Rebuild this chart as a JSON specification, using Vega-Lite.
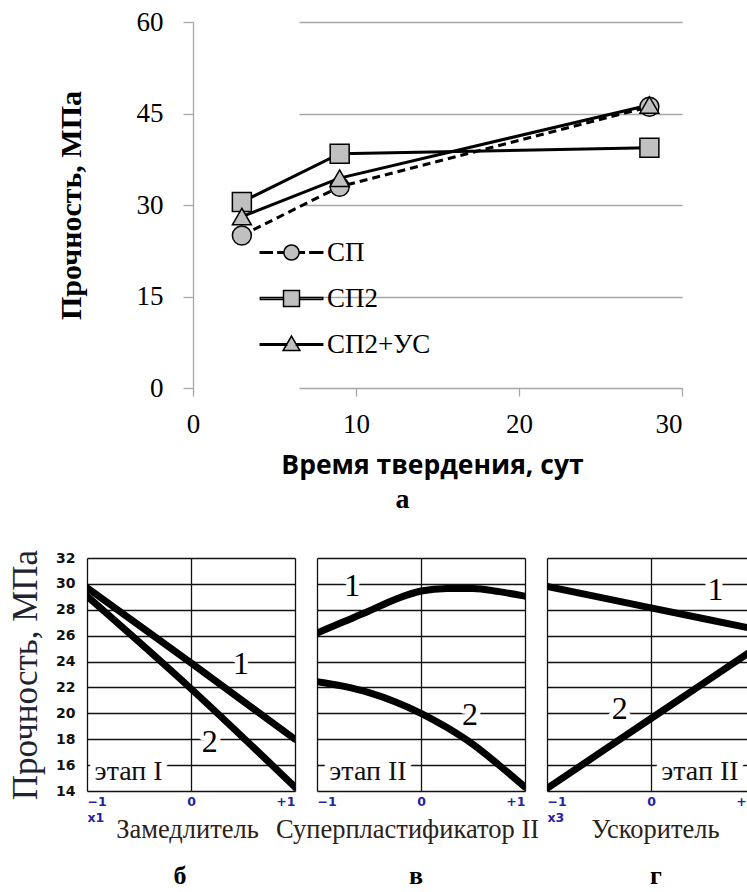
{
  "$schema": "https://vega.github.io/schema/vega-lite/v6.json",
  "background": "white",
  "padding": {"left": 8, "top": 8, "right": 0, "bottom": 0},
  "spacing": 35,
  "resolve": {"scale": {"shape": "independent"}, "legend": {"shape": "independent"}},
  "datasets": {
    "top": [
      {"series": "СП", "day": 3, "strength": 25.0},
      {"series": "СП", "day": 9, "strength": 33.0},
      {"series": "СП", "day": 28, "strength": 46.1},
      {"series": "СП2", "day": 3, "strength": 30.5},
      {"series": "СП2", "day": 9, "strength": 38.4},
      {"series": "СП2", "day": 28, "strength": 39.4},
      {"series": "СП2+УС", "day": 3, "strength": 28.1},
      {"series": "СП2+УС", "day": 9, "strength": 34.4},
      {"series": "СП2+УС", "day": 28, "strength": 46.4}
    ],
    "curves": [
      {"panel": "б", "series": "1", "x": -1, "y": 29.7},
      {"panel": "б", "series": "1", "x": 0, "y": 23.9},
      {"panel": "б", "series": "1", "x": 1, "y": 18.0},
      {"panel": "б", "series": "2", "x": -1, "y": 29.05},
      {"panel": "б", "series": "2", "x": 0, "y": 21.9},
      {"panel": "б", "series": "2", "x": 1, "y": 14.3},
      {"panel": "в", "series": "1", "x": -1, "y": 26.2},
      {"panel": "в", "series": "1", "x": -0.75, "y": 27.05},
      {"panel": "в", "series": "1", "x": -0.5, "y": 27.9},
      {"panel": "в", "series": "1", "x": -0.25, "y": 28.8},
      {"panel": "в", "series": "1", "x": 0, "y": 29.45},
      {"panel": "в", "series": "1", "x": 0.25, "y": 29.65},
      {"panel": "в", "series": "1", "x": 0.5, "y": 29.65},
      {"panel": "в", "series": "1", "x": 0.75, "y": 29.4},
      {"panel": "в", "series": "1", "x": 1, "y": 29.05},
      {"panel": "в", "series": "2", "x": -1, "y": 22.45},
      {"panel": "в", "series": "2", "x": -0.75, "y": 22.1},
      {"panel": "в", "series": "2", "x": -0.5, "y": 21.6},
      {"panel": "в", "series": "2", "x": -0.25, "y": 20.9},
      {"panel": "в", "series": "2", "x": 0, "y": 20.0},
      {"panel": "в", "series": "2", "x": 0.25, "y": 18.9},
      {"panel": "в", "series": "2", "x": 0.5, "y": 17.6},
      {"panel": "в", "series": "2", "x": 0.75, "y": 16.0},
      {"panel": "в", "series": "2", "x": 1, "y": 14.3},
      {"panel": "г", "series": "1", "x": -1, "y": 29.8},
      {"panel": "г", "series": "1", "x": 0, "y": 28.15},
      {"panel": "г", "series": "1", "x": 1, "y": 26.5},
      {"panel": "г", "series": "2", "x": -1, "y": 14.2},
      {"panel": "г", "series": "2", "x": 0, "y": 19.6},
      {"panel": "г", "series": "2", "x": 1, "y": 25.0}
    ],
    "notes": [
      {"panel": "б", "kind": "num", "x": 0.48, "y": 23.8, "text": "1"},
      {"panel": "б", "kind": "num", "x": 0.18, "y": 17.8, "text": "2"},
      {"panel": "б", "kind": "stage", "x": -0.6, "y": 15.5, "text": "этап I"},
      {"panel": "в", "kind": "num", "x": -0.66, "y": 29.8, "text": "1"},
      {"panel": "в", "kind": "num", "x": 0.47, "y": 19.9, "text": "2"},
      {"panel": "в", "kind": "stage", "x": -0.51, "y": 15.5, "text": "этап II"},
      {"panel": "г", "kind": "num", "x": 0.62, "y": 29.5, "text": "1"},
      {"panel": "г", "kind": "num", "x": -0.3, "y": 20.3, "text": "2"},
      {"panel": "г", "kind": "stage", "x": 0.47, "y": 15.5, "text": "этап II"}
    ]
  },
  "vconcat": [
    {
      "width": 595,
      "height": 366,
      "data": {"name": "top"},
      "title": {"text": "а", "orient": "bottom", "font": "Liberation Serif", "fontSize": 28, "fontWeight": "bold", "color": "black", "offset": 7, "dx": 18},
      "resolve": {"scale": {"shape": "independent"}, "legend": {"shape": "independent"}},
      "encoding": {
        "x": {
          "field": "day", "type": "quantitative",
          "scale": {"domain": [-6.5, 30], "nice": false, "zero": false},
          "axis": {
            "values": [0, 10, 20, 30], "grid": false,
            "domain": false,
            "ticks": true, "tickSize": 8, "tickColor": "#a6a6a6", "tickWidth": 1.3,
            "labelFont": "Liberation Serif", "labelFontSize": 27, "labelColor": "black", "labelPadding": 15,
            "title": "Время твердения, сут", "titleFont": "Open Sans", "titleFontSize": 26.5, "titleFontWeight": "bold", "titleColor": "black", "titlePadding": 15,
            "titleX": 345, "titleAlign": "center"
          }
        },
        "y": {
          "field": "strength", "type": "quantitative",
          "scale": {"domain": [0, 60], "nice": false},
          "axis": {
            "values": [0, 15, 30, 45, 60], "offset": -106,
            "grid": true, "gridColor": "#a6a6a6", "gridWidth": 1.3,
            "domain": true, "domainColor": "#a6a6a6", "domainWidth": 1.3,
            "ticks": true, "tickSize": 10, "tickColor": "#a6a6a6", "tickWidth": 1.3,
            "labelFont": "Liberation Serif", "labelFontSize": 27, "labelColor": "black", "labelPadding": 20,
            "title": "Прочность, МПа", "titleFont": "Liberation Serif", "titleFontSize": 30, "titleFontWeight": "bold", "titleColor": "black", "titlePadding": 50,
            "encoding": {"grid": {"x": {"value": 106}}}
          }
        }
      },
      "layer": [
        {
          "transform": [{"filter": "datum.series === 'СП'"}],
          "mark": {"type": "line", "color": "black", "strokeWidth": 3, "strokeDash": [8, 5]},
          "encoding": {"detail": {"field": "series", "type": "nominal"}}
        },
        {
          "transform": [{"filter": "datum.series !== 'СП'"}],
          "mark": {"type": "line", "color": "black", "strokeWidth": 3},
          "encoding": {"detail": {"field": "series", "type": "nominal"}}
        },
        {
          "mark": {"type": "point", "filled": true, "fill": "#c0c0c0", "stroke": "black", "strokeWidth": 1.5, "opacity": 1, "size": 360},
          "encoding": {
            "shape": {
              "field": "series", "type": "nominal",
              "scale": {"domain": ["СП", "СП2", "СП2+УС"], "range": ["circle", "square", "triangle-up"]},
              "legend": null
            }
          }
        },
        {
          "mark": {"type": "point", "filled": true, "fill": "#c0c0c0", "stroke": "black", "strokeWidth": 1.5, "opacity": 0, "size": 256},
          "encoding": {
            "shape": {
              "field": "series", "type": "nominal",
              "scale": {
                "domain": ["СП", "СП2", "СП2+УС"],
                "range": [
                  "M-3.9,-0.09H-2.4V0.09H-3.9Z M-1.7,-0.09H-1.05V0.09H-1.7Z M1.05,-0.09H1.6V0.09H1.05Z M2.3,-0.09H3.9V0.09H2.3Z M-0.95,0A0.95,0.95 0 1,0 0.95,0A0.95,0.95 0 1,0 -0.95,0Z",
                  "M-3.9,-0.11H-1V0.11H-3.9Z M1,-0.11H3.9V0.11H1Z M-1,-1H1V1H-1Z",
                  "M-3.9,-0.1H-0.6V0.1H-3.9Z M0.6,-0.1H3.9V0.1H0.6Z M0,-1.05L1.05,0.75L-1.05,0.75Z"
                ]
              },
              "legend": {
                "orient": "none", "legendX": 191, "legendY": 217, "title": null,
                "labelFont": "Liberation Serif", "labelFontSize": 27, "labelColor": "black",
                "labelOffset": 22, "rowPadding": 18, "symbolSize": 256,
                "symbolFillColor": "#c0c0c0", "symbolStrokeColor": "black", "symbolStrokeWidth": 1.5, "symbolOpacity": 1,
                "encoding": {
                  "symbols": {
                    "fill": {"value": "#c0c0c0"},
                    "stroke": {"value": "black"},
                    "strokeWidth": {"value": 1.5}
                  }
                }
              }
            }
          }
        }
      ]
    },
    {
      "hconcat": [
        {
          "width": 208,
          "height": 233,
          "title": {"text": "б", "orient": "bottom", "font": "Liberation Serif", "fontSize": 26, "fontWeight": "bold", "color": "black", "offset": 20, "dx": -11},
          "encoding": {
            "x": {
              "field": "x", "type": "quantitative",
              "scale": {"domain": [-1, 1], "nice": false, "zero": false},
              "axis": {
                "values": [-1, 0, 1], "grid": true, "gridColor": "#111", "gridWidth": 1.3,
                "domain": false, "ticks": false,
                "labelExpr": "datum.value == -1 ? ['−1', 'x1'] : datum.value == 1 ? '+1' : '0'",
                "labelFlush": true, "labelFont": "DejaVu Sans", "labelFontWeight": "bold", "labelFontSize": 12.5, "labelColor": "#2323a0", "labelPadding": 4, "labelLineHeight": 16,
                "title": "Замедлитель", "titleFont": "Liberation Serif", "titleFontSize": 26.5, "titleFontWeight": "normal", "titleColor": "#2b2118",
                "titleX": 100, "titleY": 46, "titleBaseline": "alphabetic", "titleAlign": "center"
              }
            },
            "y": {
              "field": "y", "type": "quantitative",
              "scale": {"domain": [14, 32], "nice": false, "zero": false},
              "axis": {
                "values": [14, 16, 18, 20, 22, 24, 26, 28, 30, 32],
                "grid": true, "gridColor": "#111", "gridWidth": 1.3, "domain": false, "ticks": false,
                "labelFont": "DejaVu Sans", "labelFontWeight": "bold", "labelFontSize": 14, "labelColor": "#111", "labelPadding": 12,
                "title": "Прочность, МПа", "titleFont": "Liberation Serif", "titleFontSize": 35, "titleFontWeight": "normal", "titleColor": "#1f2530", "titlePadding": 12
              }
            }
          },
          "layer": [
            {
              "data": {"name": "curves"},
              "transform": [{"filter": "datum.panel === 'б'"}],
              "mark": {"type": "line", "color": "black", "strokeWidth": 7, "strokeCap": "round", "interpolate": "monotone", "clip": true},
              "encoding": {"detail": {"field": "series", "type": "nominal"}}
            },
            {
              "data": {"name": "notes"},
              "transform": [{"filter": "datum.panel === 'б' && datum.kind === 'num'"}],
              "mark": {"type": "text", "font": "Liberation Serif", "fontSize": 32, "color": "white", "stroke": "white", "strokeWidth": 10, "strokeJoin": "round", "baseline": "middle"},
              "encoding": {"text": {"field": "text"}}
            },
            {
              "data": {"name": "notes"},
              "transform": [{"filter": "datum.panel === 'б' && datum.kind === 'num'"}],
              "mark": {"type": "text", "font": "Liberation Serif", "fontSize": 32, "color": "black", "baseline": "middle"},
              "encoding": {"text": {"field": "text"}}
            },
            {
              "data": {"name": "notes"},
              "transform": [{"filter": "datum.panel === 'б' && datum.kind === 'stage'"}],
              "mark": {"type": "text", "font": "Liberation Serif", "fontSize": 28, "color": "white", "stroke": "white", "strokeWidth": 12, "strokeJoin": "round", "baseline": "middle"},
              "encoding": {"text": {"field": "text"}}
            },
            {
              "data": {"name": "notes"},
              "transform": [{"filter": "datum.panel === 'б' && datum.kind === 'stage'"}],
              "mark": {"type": "text", "font": "Liberation Serif", "fontSize": 28, "color": "#111", "baseline": "middle"},
              "encoding": {"text": {"field": "text"}}
            }
          ]
        },
        {
          "width": 208,
          "height": 233,
          "title": {"text": "в", "orient": "bottom", "font": "Liberation Serif", "fontSize": 26, "fontWeight": "bold", "color": "black", "offset": 20, "dx": -5},
          "encoding": {
            "x": {
              "field": "x", "type": "quantitative",
              "scale": {"domain": [-1, 1], "nice": false, "zero": false},
              "axis": {
                "values": [-1, 0, 1], "grid": true, "gridColor": "#111", "gridWidth": 1.3,
                "domain": false, "ticks": false,
                "labelExpr": "datum.value == -1 ? '−1' : datum.value == 1 ? '+1' : '0'",
                "labelFlush": true, "labelFont": "DejaVu Sans", "labelFontWeight": "bold", "labelFontSize": 12.5, "labelColor": "#2323a0", "labelPadding": 4,
                "title": "Суперпластификатор II", "titleFont": "Liberation Serif", "titleFontSize": 26.5, "titleFontWeight": "normal", "titleColor": "#2b2118",
                "titleX": 90, "titleY": 46, "titleBaseline": "alphabetic", "titleAlign": "center"
              }
            },
            "y": {
              "field": "y", "type": "quantitative",
              "scale": {"domain": [14, 32], "nice": false, "zero": false},
              "axis": {
                "values": [14, 16, 18, 20, 22, 24, 26, 28, 30, 32],
                "grid": true, "gridColor": "#111", "gridWidth": 1.3, "domain": false, "ticks": false,
                "labels": false, "title": null
              }
            }
          },
          "layer": [
            {
              "data": {"name": "curves"},
              "transform": [{"filter": "datum.panel === 'в'"}],
              "mark": {"type": "line", "color": "black", "strokeWidth": 7, "strokeCap": "round", "interpolate": "monotone", "clip": true},
              "encoding": {"detail": {"field": "series", "type": "nominal"}}
            },
            {
              "data": {"name": "notes"},
              "transform": [{"filter": "datum.panel === 'в' && datum.kind === 'num'"}],
              "mark": {"type": "text", "font": "Liberation Serif", "fontSize": 32, "color": "white", "stroke": "white", "strokeWidth": 10, "strokeJoin": "round", "baseline": "middle"},
              "encoding": {"text": {"field": "text"}}
            },
            {
              "data": {"name": "notes"},
              "transform": [{"filter": "datum.panel === 'в' && datum.kind === 'num'"}],
              "mark": {"type": "text", "font": "Liberation Serif", "fontSize": 32, "color": "black", "baseline": "middle"},
              "encoding": {"text": {"field": "text"}}
            },
            {
              "data": {"name": "notes"},
              "transform": [{"filter": "datum.panel === 'в' && datum.kind === 'stage'"}],
              "mark": {"type": "text", "font": "Liberation Serif", "fontSize": 28, "color": "white", "stroke": "white", "strokeWidth": 12, "strokeJoin": "round", "baseline": "middle"},
              "encoding": {"text": {"field": "text"}}
            },
            {
              "data": {"name": "notes"},
              "transform": [{"filter": "datum.panel === 'в' && datum.kind === 'stage'"}],
              "mark": {"type": "text", "font": "Liberation Serif", "fontSize": 28, "color": "#111", "baseline": "middle"},
              "encoding": {"text": {"field": "text"}}
            }
          ]
        },
        {
          "width": 208,
          "height": 233,
          "title": {"text": "г", "orient": "bottom", "font": "Liberation Serif", "fontSize": 26, "fontWeight": "bold", "color": "black", "offset": 20, "dx": 5},
          "encoding": {
            "x": {
              "field": "x", "type": "quantitative",
              "scale": {"domain": [-1, 1], "nice": false, "zero": false},
              "axis": {
                "values": [-1, 0, 1], "grid": true, "gridColor": "#111", "gridWidth": 1.3,
                "domain": false, "ticks": false,
                "labelExpr": "datum.value == -1 ? ['−1', 'x3'] : datum.value == 1 ? '+1' : '0'",
                "labelFlush": true, "labelFont": "DejaVu Sans", "labelFontWeight": "bold", "labelFontSize": 12.5, "labelColor": "#2323a0", "labelPadding": 4, "labelLineHeight": 16,
                "title": "Ускоритель", "titleFont": "Liberation Serif", "titleFontSize": 26.5, "titleFontWeight": "normal", "titleColor": "#2b2118",
                "titleX": 108, "titleY": 46, "titleBaseline": "alphabetic", "titleAlign": "center"
              }
            },
            "y": {
              "field": "y", "type": "quantitative",
              "scale": {"domain": [14, 32], "nice": false, "zero": false},
              "axis": {
                "values": [14, 16, 18, 20, 22, 24, 26, 28, 30, 32],
                "grid": true, "gridColor": "#111", "gridWidth": 1.3, "domain": false, "ticks": false,
                "labels": false, "title": null
              }
            }
          },
          "layer": [
            {
              "data": {"name": "curves"},
              "transform": [{"filter": "datum.panel === 'г'"}],
              "mark": {"type": "line", "color": "black", "strokeWidth": 7, "strokeCap": "round", "interpolate": "monotone", "clip": true},
              "encoding": {"detail": {"field": "series", "type": "nominal"}}
            },
            {
              "data": {"name": "notes"},
              "transform": [{"filter": "datum.panel === 'г' && datum.kind === 'num'"}],
              "mark": {"type": "text", "font": "Liberation Serif", "fontSize": 32, "color": "white", "stroke": "white", "strokeWidth": 10, "strokeJoin": "round", "baseline": "middle"},
              "encoding": {"text": {"field": "text"}}
            },
            {
              "data": {"name": "notes"},
              "transform": [{"filter": "datum.panel === 'г' && datum.kind === 'num'"}],
              "mark": {"type": "text", "font": "Liberation Serif", "fontSize": 32, "color": "black", "baseline": "middle"},
              "encoding": {"text": {"field": "text"}}
            },
            {
              "data": {"name": "notes"},
              "transform": [{"filter": "datum.panel === 'г' && datum.kind === 'stage'"}],
              "mark": {"type": "text", "font": "Liberation Serif", "fontSize": 28, "color": "white", "stroke": "white", "strokeWidth": 12, "strokeJoin": "round", "baseline": "middle"},
              "encoding": {"text": {"field": "text"}}
            },
            {
              "data": {"name": "notes"},
              "transform": [{"filter": "datum.panel === 'г' && datum.kind === 'stage'"}],
              "mark": {"type": "text", "font": "Liberation Serif", "fontSize": 28, "color": "#111", "baseline": "middle"},
              "encoding": {"text": {"field": "text"}}
            }
          ]
        }
      ],
      "spacing": 22,
      "bounds": "flush"
    }
  ],
  "config": {
    "view": {"stroke": null},
    "legend": {"labelFont": "Liberation Serif"}
  }
}
